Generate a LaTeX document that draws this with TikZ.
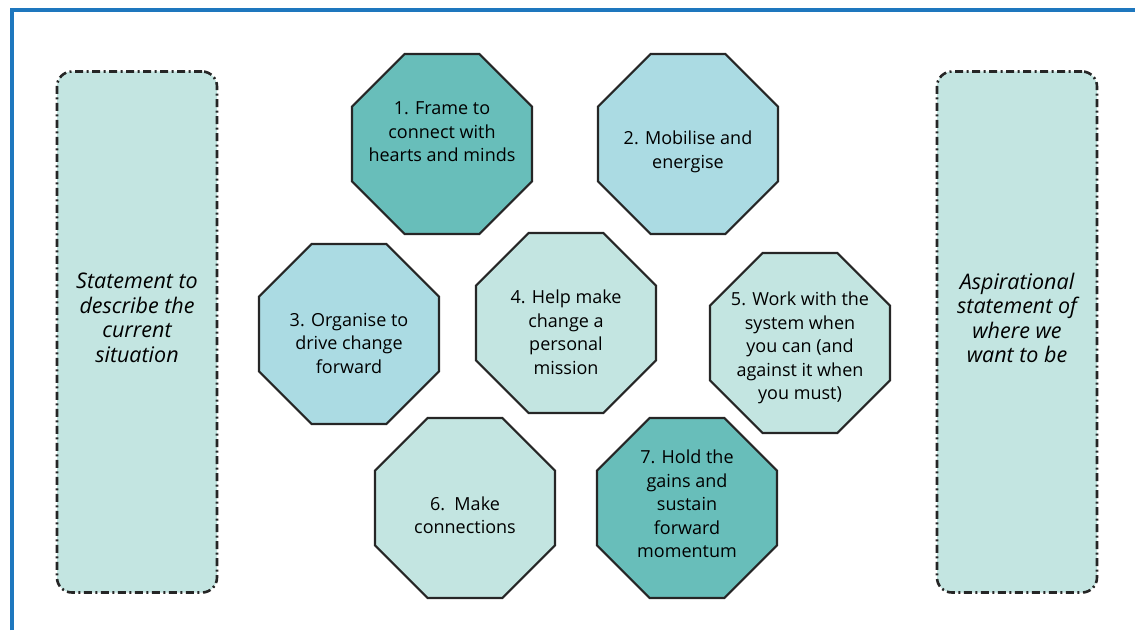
\documentclass[tikz,border=0pt]{standalone}
\usepackage{fontspec}
\setmainfont{Open Sans}
\usetikzlibrary{
    shapes.geometric,
    positioning,
}
\definecolor{tealdark}{HTML}{68BEBA}
\definecolor{bluelight}{HTML}{ABDBE3}
\definecolor{tealpale}{HTML}{C3E5E1}
\definecolor{frameblue}{HTML}{1E77BE}
\tikzstyle{stage} = [regular polygon, regular polygon sides=8,
    draw=black!85, line width=2.2pt, minimum size=195pt, inner sep=0pt]
\tikzstyle{stagedark} = [stage, fill=tealdark]
\tikzstyle{stageblue} = [stage, fill=bluelight]
\tikzstyle{stagepale} = [stage, fill=tealpale]
\tikzstyle{stagetext} = [align=center, inner sep=0pt,
    font=\fontsize{18}{23.5}\selectfont]
\tikzstyle{statement} = [rectangle, draw=black!85, fill=tealpale,
    rounded corners=15pt, line width=2.6pt,
    dash pattern=on 8pt off 3.5pt on 2pt off 3.5pt,
    minimum width=160pt, minimum height=521pt]
\tikzstyle{statetext} = [align=center, inner sep=0pt,
    font=\itshape\fontsize{21.5}{24.5}\selectfont]

\begin{document}
\begin{tikzpicture}[x=1pt, y=1pt]
        \useasboundingbox (0,0) rectangle (1135,630);
        % Outer frame (only top and left edges show)
        \draw [frameblue, line width=4pt] (12,0) -- (12,620) -- (1135,620);
        % Place nodes
        \node [statement] (now) at (137,298) {};
        \node [statement] (aim) at (1017,298) {};
        \node [stagedark] (frame) at (442,486) {};
        \node [stageblue, right of=frame, node distance=246pt] (mobilise) {};
        \node [stageblue] (organise) at (349,296) {};
        \node [stagepale] (mission) at (566,307) {};
        \node [stagepale] (system) at (800,287) {};
        \node [stagepale] (connect) at (465,122) {};
        \node [stagedark, right of=connect, node distance=222pt] (hold) {};
        % Place texts
        \node [statetext] (nowtext) at ([yshift=14pt]now.center)
            {Statement to\\describe the\\current\\situation};
        \node [statetext] (aimtext) at ([yshift=14pt]aim.center)
            {Aspirational\\statement of\\where we\\want to be};
        \node [stagetext] (frametext) at ([yshift=12pt]frame.center)
            {1. Frame to\\connect with\\hearts and minds};
        \node [stagetext] (mobilisetext) at ([yshift=-8pt]mobilise.center)
            {2. Mobilise and\\energise};
        \node [stagetext] (organisetext) at ([yshift=-9pt]organise.center)
            {3. Organise to\\drive change\\forward};
        \node [stagetext] (missiontext) at ([yshift=-9pt]mission.center)
            {4. Help make\\change a\\personal\\mission};
        \node [stagetext] (systemtext) at ([yshift=-5pt]system.center)
            {5. Work with the\\system when\\you can (and\\against it when\\you must)};
        \node [stagetext] (connecttext) at ([yshift=-7pt]connect.center)
            {6.\ \ Make\\connections};
        \node [stagetext] (holdtext) at ([yshift=4pt]hold.center)
            {7. Hold the\\gains and\\sustain\\forward\\momentum};
    \end{tikzpicture}
\end{document}
